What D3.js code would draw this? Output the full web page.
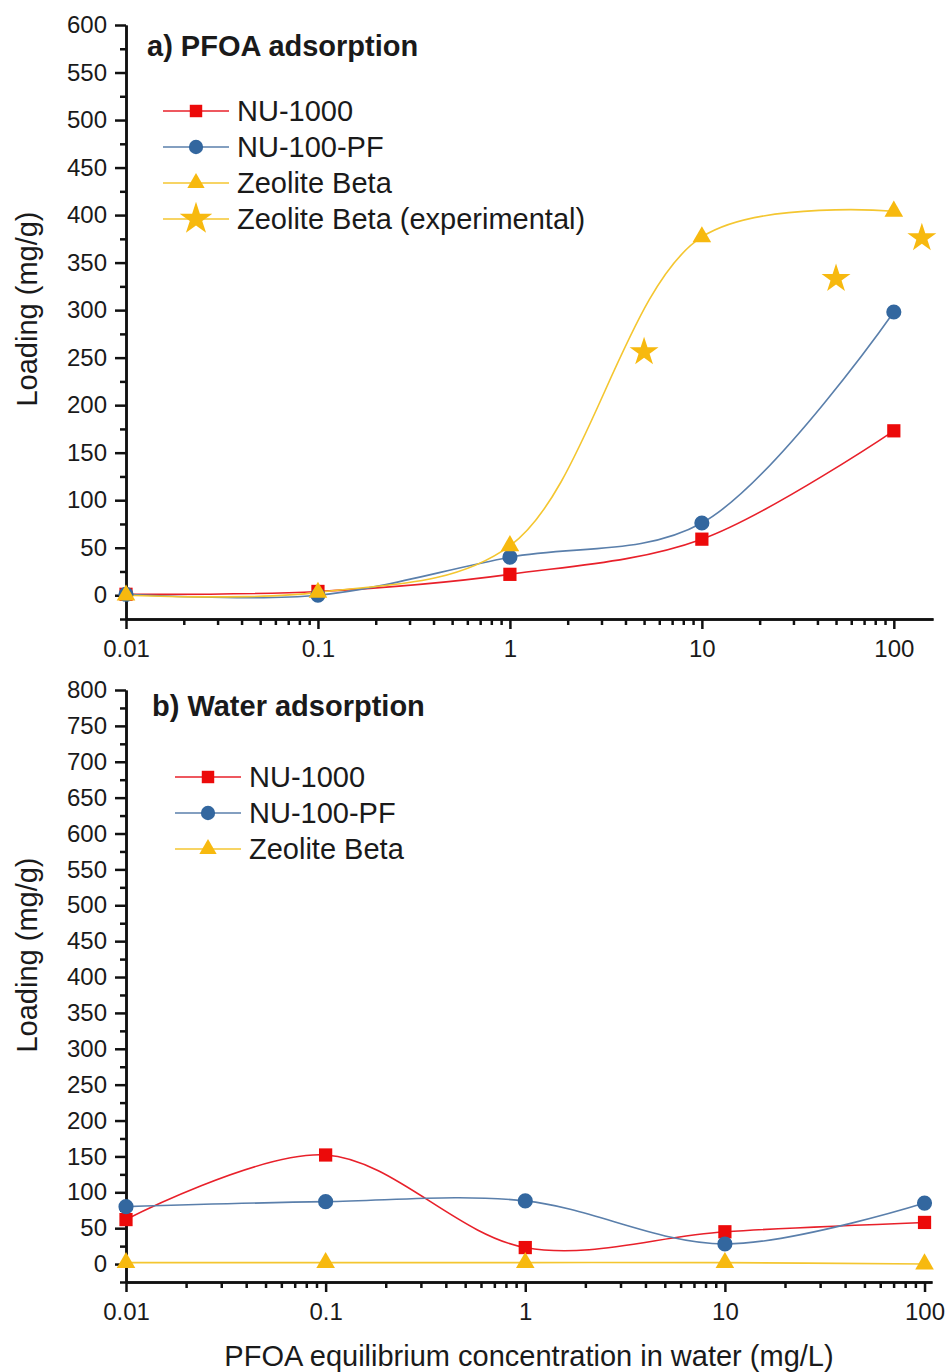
<!DOCTYPE html>
<html lang="en">
<head>
    <meta charset="UTF-8">
    <title>PFOA and water adsorption</title>
    <script type="text/javascript" src="https://cdn.jsdelivr.net/npm/d3@7"></script>
    <style type="text/css">
        body { margin: 0; background: #fff; }
        text { font-family: "Liberation Sans", Arial, sans-serif; fill: #1a1a1a; }
        .axis path, .axis line { stroke: #111; stroke-width: 2.5px; }
        .axis text { font-size: 24px; fill: #1a1a1a; }
    </style>
</head>
<body>
    <script type="text/javascript">

        // x values (mg/L) shared by the simulated series
        var conc = [0.01, 0.1, 1, 10, 100];
        var xTickValues = [0.01, 0.1, 1, 10, 100];
        var xTickLabels = ["0.01", "0.1", "1", "10", "100"];

        // a) PFOA loading (mg/g)
        var pfoaNU1000 = [1, 4, 22, 59, 173];
        var pfoaNU100PF = [1, 0, 40, 76, 298];
        var pfoaBeta = [0, 3, 52, 377, 404];
        var expConc = [5, 50, 140];
        var expBeta = [256, 333, 376];

        // b) water loading (mg/g)
        var waterNU1000 = [62, 152, 23, 45, 58];
        var waterNU100PF = [80, 87, 88, 28, 85];
        var waterBeta = [2, 2, 2, 2, 0];

        var names = ["NU-1000", "NU-100-PF", "Zeolite Beta", "Zeolite Beta (experimental)"];
        var markerColor = ["#ec0a0a", "#33679f", "#f7b90f", "#f7b90f"];
        var lineColor = ["#e8202a", "#5a7fab", "#f4c630", "#f4c630"];
        var shapes = [d3.symbolSquare, d3.symbolCircle, d3.symbolTriangle, d3.symbolStar];
        var sizes = [175, 180, 150, 260];

        var w = 947;
        var h = 1372;

        var svg = d3.select("body")
                    .append("svg")
                    .attr("width", w)
                    .attr("height", h);

        function makePanel(opt) {
            var x = d3.scaleLog().domain([0.01, opt.xMax]).range([126, opt.xRight]);
            var y = d3.scaleLinear().domain([-25, opt.yMax]).range([opt.bottom, opt.top]);
            var g = svg.append("g");

            // y axis: major + minor ticks
            g.append("g").attr("class", "axis")
                .attr("transform", "translate(126,0)")
                .call(d3.axisLeft(y).tickValues(d3.range(0, opt.yMax + 1, 50))
                    .tickSize(11).tickSizeOuter(0).tickPadding(8));
            g.append("g").attr("class", "axis")
                .attr("transform", "translate(126,0)")
                .call(d3.axisLeft(y).tickValues(d3.range(-25, opt.yMax, 50))
                    .tickSize(6).tickSizeOuter(0).tickFormat(""));

            // x axis, log
            g.append("g").attr("class", "axis")
                .attr("transform", "translate(0," + opt.bottom + ")")
                .call(d3.axisBottom(x).tickValues(xTickValues)
                    .tickSize(10).tickSizeOuter(0).tickPadding(11)
                    .tickFormat(function(d, i) { return xTickLabels[i]; }));
            var minor = [];
            xTickValues.forEach(function(d) {
                for (var k = 2; k <= 9; k++) if (d * k <= opt.xMax) minor.push(d * k);
            });
            g.append("g").attr("class", "axis")
                .attr("transform", "translate(0," + opt.bottom + ")")
                .call(d3.axisBottom(x).tickValues(minor)
                    .tickSize(6).tickSizeOuter(0).tickFormat(""));

            // curves
            var line = d3.line()
                .x(function(d) { return x(d[0]); })
                .y(function(d) { return y(d[1]); })
                .curve(d3.curveCatmullRom.alpha(0.5));

            opt.series.forEach(function(vals, s) {
                var pts = conc.map(function(c, i) { return [c, vals[i]]; });
                g.append("path")
                    .attr("d", line(pts))
                    .attr("fill", "none")
                    .attr("stroke", lineColor[s])
                    .attr("stroke-width", 1.6);
            });
            opt.series.forEach(function(vals, s) {
                g.selectAll(null)
                    .data(conc.map(function(c, i) { return [c, vals[i]]; }))
                    .enter()
                    .append("path")
                    .attr("transform", function(d) { return "translate(" + x(d[0]) + "," + y(d[1]) + ")"; })
                    .attr("d", d3.symbol().type(shapes[s]).size(sizes[s]))
                    .attr("fill", markerColor[s]);
            });
            if (opt.exp) {
                g.selectAll(null)
                    .data(expConc.map(function(c, i) { return [c, expBeta[i]]; }))
                    .enter()
                    .append("path")
                    .attr("transform", function(d) { return "translate(" + x(d[0]) + "," + y(d[1]) + ")"; })
                    .attr("d", d3.symbol().type(d3.symbolStar).size(sizes[3]))
                    .attr("fill", markerColor[3]);
            }

            // title
            g.append("text")
                .attr("x", opt.titleX).attr("y", opt.titleY)
                .attr("font-size", "29px").attr("font-weight", "bold")
                .text(opt.title);

            // legend
            var n = opt.exp ? 4 : 3;
            for (var i = 0; i < n; i++) {
                var ly = opt.legY + i * opt.legStep;
                g.append("line")
                    .attr("x1", opt.legX).attr("x2", opt.legX + 66)
                    .attr("y1", ly).attr("y2", ly)
                    .attr("stroke", lineColor[i]).attr("stroke-width", 1.6);
                g.append("path")
                    .attr("transform", "translate(" + (opt.legX + 33) + "," + ly + ")")
                    .attr("d", d3.symbol().type(shapes[i]).size(i === 3 ? 330 : sizes[i] - 20))
                    .attr("fill", markerColor[i]);
                g.append("text")
                    .attr("x", opt.legX + 74).attr("y", ly)
                    .attr("dy", "0.35em")
                    .attr("font-size", "29px")
                    .text(names[i]);
            }

            // y label
            g.append("text")
                .attr("transform", "translate(37," + opt.yLabelY + ") rotate(-90)")
                .attr("text-anchor", "middle")
                .attr("font-size", "29px")
                .text("Loading (mg/g)");
        }

        makePanel({
            xMax: 160, xRight: 933, yMax: 600, top: 25, bottom: 619,
            series: [pfoaNU1000, pfoaNU100PF, pfoaBeta], exp: true,
            title: "a) PFOA adsorption", titleX: 147, titleY: 56,
            legX: 163, legY: 111, legStep: 36, yLabelY: 309
        });

        makePanel({
            xMax: 109, xRight: 932, yMax: 800, top: 690, bottom: 1282,
            series: [waterNU1000, waterNU100PF, waterBeta], exp: false,
            title: "b) Water adsorption", titleX: 152, titleY: 716,
            legX: 175, legY: 777, legStep: 36, yLabelY: 955
        });

        svg.append("text")
            .attr("x", 529).attr("y", 1366)
            .attr("text-anchor", "middle")
            .attr("font-size", "29px")
            .text("PFOA equilibrium concentration in water (mg/L)");

    </script>
</body>
</html>
